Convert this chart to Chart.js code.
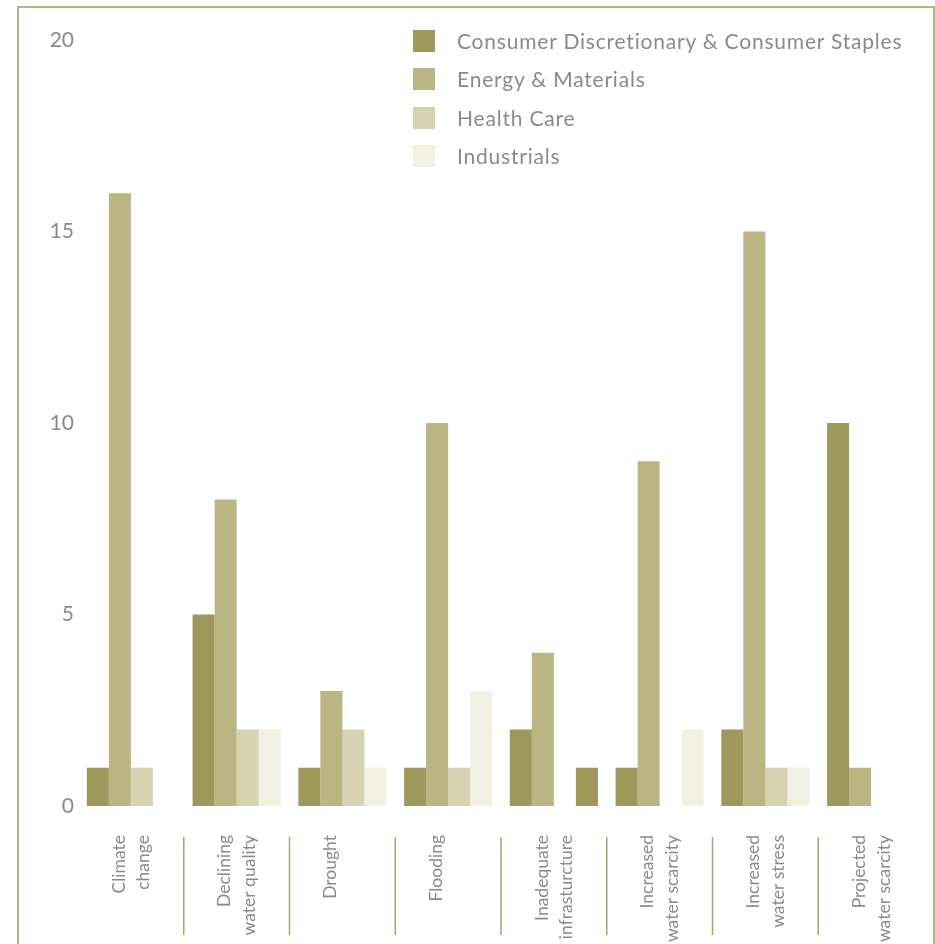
<!DOCTYPE html>
<html>
<head>
<meta charset="utf-8">
<script src="https://cdn.jsdelivr.net/npm/chart.js@4.4.0/dist/chart.umd.min.js"></script>
<style>
  html, body { margin: 0; padding: 0; background: #fff; }
  #wrap { position: relative; width: 935px; height: 944px; overflow: hidden; }
  #frame { position: absolute; left: 17px; top: 6px; width: 914px; height: 1000px;
           border: 2px solid #b8b380; pointer-events: none; }
  #legend { position: absolute; left: 413px; top: 30px; margin: 0; padding: 0; list-style: none;
            font-family: Lato, "Open Sans", sans-serif; font-size: 21px; letter-spacing: 0.8px; color: #8a8a8a; }
  #legend li { height: 22px; line-height: 22px; margin-bottom: 16.3px; display: flex; align-items: center; white-space: nowrap; }
  #legend span.box { width: 22px; height: 22px; margin-right: 22px; display: inline-block; }
</style>
</head>
<body>
<div id="wrap">
  <canvas id="grafico" width="935" height="944"></canvas>
  <div id="frame"></div>
  <ul id="legend"></ul>
</div>
<script>
const categorias = [
  ['Climate', 'change'],
  ['Declining', 'water quality'],
  'Drought',
  'Flooding',
  ['Inadequate', 'infrasturcture'],
  ['Increased', 'water scarcity'],
  ['Increased', 'water stress'],
  ['Projected', 'water scarcity']
];
const consumo = [1, 5, 1, 1, 2, 1, 2, 10];
const energia = [16, 8, 3, 10, 4, 9, 15, 1];
const saude = [1, 2, 2, 1, 0, 0, 1, 0];
const industria = [0, 2, 1, 3, 1, 2, 1, 0];
const ticksY = [0, 5, 10, 15, 20];

const corConsumo = '#9e985c';
const corEnergia = '#bbb583';
const corSaude = '#d8d2b2';
const corIndustria = '#f2efe3';

// the original paints the Inadequate infrastructure industrials bar in the dark tone
const coresIndustria = industria.map((v, i) => i === 4 ? corConsumo : corIndustria);

const separadores = {
  id: 'separadores',
  afterDraw(chart) {
    const x = chart.scales.x;
    const area = chart.chartArea;
    const ctx = chart.ctx;
    ctx.save();
    ctx.strokeStyle = '#aaa46c';
    ctx.lineWidth = 1.5;
    for (let i = 0; i < categorias.length - 1; i++) {
      const px = (x.getPixelForValue(i) + x.getPixelForValue(i + 1)) / 2;
      ctx.beginPath();
      ctx.moveTo(px, area.bottom + 31);
      ctx.lineTo(px, area.bottom + 129);
      ctx.stroke();
    }
    ctx.restore();
  }
};

const legendaHtml = {
  id: 'legendaHtml',
  afterUpdate(chart) {
    const ul = document.getElementById('legend');
    ul.innerHTML = '';
    chart.data.datasets.forEach((ds) => {
      const li = document.createElement('li');
      const box = document.createElement('span');
      box.className = 'box';
      box.style.background = ds.legendColor;
      li.appendChild(box);
      li.appendChild(document.createTextNode(ds.label));
      ul.appendChild(li);
    });
  }
};

new Chart(document.getElementById('grafico'), {
  type: 'bar',
  data: {
    labels: categorias,
    datasets: [
      { label: 'Consumer Discretionary & Consumer Staples', data: consumo, backgroundColor: corConsumo, legendColor: corConsumo },
      { label: 'Energy & Materials', data: energia, backgroundColor: corEnergia, legendColor: corEnergia },
      { label: 'Health Care', data: saude, backgroundColor: corSaude, legendColor: corSaude },
      { label: 'Industrials', data: industria, backgroundColor: coresIndustria, legendColor: corIndustria }
    ]
  },
  options: {
    responsive: false,
    animation: false,
    layout: { padding: { top: 40, right: 11, left: 0, bottom: 0 } },
    datasets: { bar: { categoryPercentage: 0.833, barPercentage: 1, borderWidth: 0 } },
    plugins: {
      legend: { display: false },
      tooltip: { enabled: false }
    },
    scales: {
      x: {
        grid: { display: false, drawTicks: false },
        border: { display: false },
        ticks: {
          minRotation: 90, maxRotation: 90, padding: 29, labelOffset: -12,
          color: '#8a8a8a',
          font: { family: 'Lato', size: 17.5, lineHeight: 1.42 }
        },
        afterFit(scale) {
          scale.height = 138;
          scale.paddingLeft = 0;
          scale.paddingRight = 0;
        }
      },
      y: {
        min: 0, max: 20,
        grid: { display: false, drawTicks: false },
        border: { display: false },
        afterBuildTicks(scale) { scale.ticks = ticksY.map(v => ({ value: v })); },
        ticks: {
          padding: 4,
          color: '#8a8a8a',
          font: { family: 'Lato', size: 21 }
        },
        afterFit(scale) { scale.width = 78; }
      }
    }
  },
  plugins: [separadores, legendaHtml]
});
</script>
</body>
</html>
